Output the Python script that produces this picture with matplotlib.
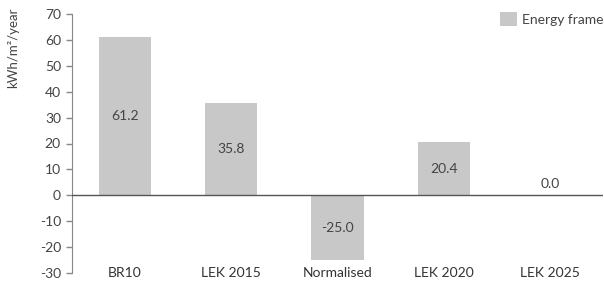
import matplotlib.pyplot as plt

categories = ['BR10', 'LEK 2015', 'Normalised', 'LEK 2020', 'LEK 2025']
values = [61.2, 35.8, -25.0, 20.4, 0.0]
yticks = list(range(-30, 71, 10))

plt.rcParams['font.family'] = ['Lato', 'DejaVu Sans']
txt = '#444444'
grey = '#c8c8c8'

fig = plt.figure(figsize=(6.04, 2.84), dpi=100)
ax = fig.add_axes([72 / 604, 11 / 284, 531 / 604, 259 / 284])

x = list(range(len(categories)))
ax.bar(x, values, width=0.49, color=grey, label='Energy frame', zorder=2)
ax.axhline(0, color='#555555', lw=1, zorder=3)

for xi, v in zip(x, values):
    if v == 0:
        ax.annotate(f'{v:.1f}', (xi, 0), xytext=(0, 8), textcoords='offset points',
                    ha='center', va='center', fontsize=10, color=txt)
    else:
        ax.text(xi, v / 2, f'{v:.1f}', ha='center', va='center', fontsize=10, color=txt)

ax.set_xlim(-0.5, 4.5)
ax.set_ylim(-30, 70)
ax.set_yticks(yticks)
ax.set_yticklabels([str(t) for t in yticks], fontsize=10, color=txt)
ax.set_xticks(x)
ax.set_xticklabels(categories, fontsize=10, color='#333333')
ax.tick_params(axis='x', length=0, pad=-4)
ax.tick_params(axis='y', length=4, width=1, color='#888888', pad=4)

for s in ['top', 'right', 'bottom']:
    ax.spines[s].set_visible(False)
ax.spines['left'].set_color('#888888')

ax.set_ylabel('kWh/m²/year', fontsize=9.5, color=txt)
ax.yaxis.set_label_coords(-0.1, 0.87)

leg = ax.legend(loc='upper right', frameon=False, fontsize=10, handlelength=1.2,
                handleheight=1.2, handletextpad=0.4, borderaxespad=0.0,
                bbox_to_anchor=(1.012, 1.03))
for t in leg.get_texts():
    t.set_color(txt)

fig.savefig('out.png', dpi=100)
